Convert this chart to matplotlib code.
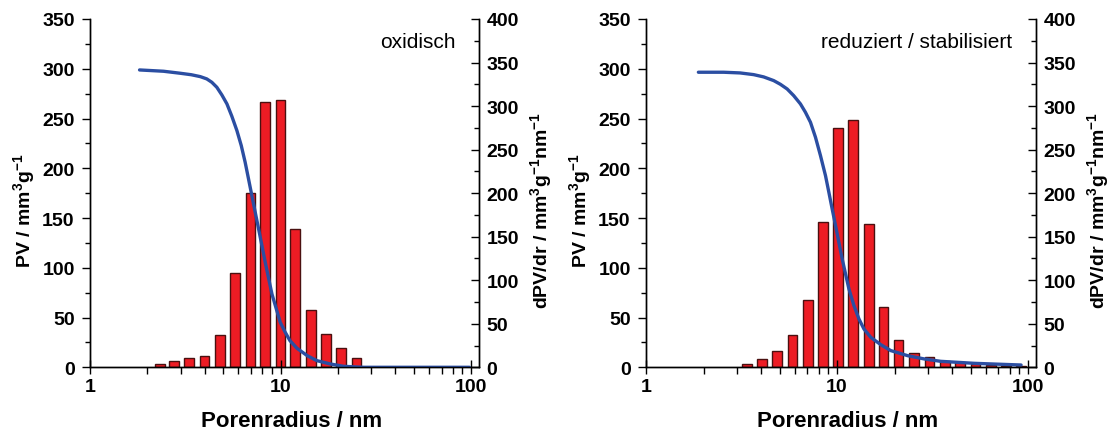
import numpy as np
import matplotlib
matplotlib.use("Agg")
import matplotlib.pyplot as plt
from matplotlib.ticker import FixedLocator, FixedFormatter, MultipleLocator, NullFormatter

plt.rcParams['font.family'] = ['Liberation Sans', 'DejaVu Sans']
plt.rcParams['mathtext.fontset'] = 'custom'
plt.rcParams['mathtext.rm'] = 'Liberation Sans:bold'
plt.rcParams['mathtext.it'] = 'Liberation Sans:bold'
plt.rcParams['mathtext.bf'] = 'Liberation Sans:bold'
plt.rcParams['mathtext.default'] = 'rm'

# ---------------- data ----------------
# left panel: oxidisch
ox_bar_r = [2.33, 2.76, 3.32, 3.99, 4.80, 5.78, 6.96, 8.31, 10.0, 11.95, 14.45, 17.3, 20.8, 25.0]
ox_bar_dv = [3.8, 6.9, 10.3, 12.7, 37.1, 108.0, 199.9, 304.8, 306.6, 158.5, 66.3, 38.6, 21.8, 10.3]
ox_curve_r = [1.82, 2.43, 2.97, 3.40, 3.79, 4.10, 4.36, 4.63, 4.92, 5.23, 5.55, 5.90, 6.22, 6.52,
              6.79, 7.07, 7.67, 8.31, 9.01, 9.96, 10.58, 11.2, 12.2, 13.8, 15.5, 18.2, 21.4,
              27.3, 40.0, 60.0, 98.0]
ox_curve_pv = [298.8, 297.5, 295.5, 294.0, 292.1, 289.8, 286.4, 281.4, 273.7, 264.7, 252.3, 237.9,
               222.8, 206.0, 189.3, 172.5, 139.0, 105.5, 73.7, 45.2, 35.2, 26.8, 19.1, 11.7, 6.7,
               3.4, 1.0, 0.0, 0.0, 0.0, 0.0]

# right panel: reduziert / stabilisiert
red_bar_r = [3.38, 4.06, 4.87, 5.84, 7.03, 8.46, 10.14, 12.16, 14.64, 17.5, 21.0, 25.3,
             30.5, 36.7, 44.1, 53.1, 63.7, 76.4, 91.9]
red_bar_dv = [3.9, 9.1, 18.7, 36.8, 76.9, 167.3, 275.3, 283.7, 164.7, 69.7, 31.0, 16.1,
              11.4, 7.7, 5.7, 3.9, 2.6, 1.9, 1.9]
red_curve_r = [1.88, 2.55, 3.11, 3.66, 4.13, 4.66, 5.05, 5.48, 5.93, 6.43, 6.83, 7.26, 7.71,
               8.19, 8.70, 9.06, 9.43, 9.82, 10.22, 10.64, 11.08, 11.54, 12.26, 13.02, 13.83,
               15.0, 16.92, 19.1, 23.4, 28.6, 34.9, 52.3, 91.9]
red_curve_pv = [296.5, 296.5, 295.8, 294.1, 291.8, 288.1, 284.4, 279.7, 273.0, 264.7, 256.3,
                246.2, 231.2, 212.7, 192.6, 175.9, 159.1, 142.4, 125.6, 108.9, 93.8, 78.7,
                62.0, 48.6, 38.5, 30.2, 22.8, 16.8, 11.7, 8.4, 6.0, 4.0, 2.3]

panel_titles = ["oxidisch", "reduziert / stabilisiert"]
x_ticks = [1, 10, 100]
x_ticklabels = ["1", "10", "100"]
x_label = "Porenradius / nm"
yl_label = r"PV / mm$^{3}$g$^{-1}$"
yr_label = r"dPV/dr / mm$^{3}$g$^{-1}$nm$^{-1}$"

# ---------------- figure ----------------
W, H = 1109, 435
fig = plt.figure(figsize=(W / 100, H / 100), dpi=100)

BAR_RED = '#ED1C24'
BAR_EDGE = '#4a1010'
BLUE = '#2B4EA2'
half_dec = 0.0255

panels = [
    dict(x0=90, x1=479, bars=(ox_bar_r, ox_bar_dv), curve=(ox_curve_r, ox_curve_pv),
         title=panel_titles[0]),
    dict(x0=646, x1=1036, bars=(red_bar_r, red_bar_dv), curve=(red_curve_r, red_curve_pv),
         title=panel_titles[1]),
]
y_top, y_bot = 20, 368.3

for p in panels:
    ax = fig.add_axes([p['x0'] / W, (H - y_bot) / H, (p['x1'] - p['x0']) / W, (y_bot - y_top) / H])
    ax2 = ax.twinx()
    # curve axis on top of bar axis
    ax.set_zorder(ax2.get_zorder() + 1)
    ax.patch.set_visible(False)

    br, bv = np.array(p['bars'][0]), np.array(p['bars'][1])
    lefts = br * 10 ** (-half_dec)
    widths = br * (10 ** half_dec - 10 ** (-half_dec))
    ax2.bar(lefts, bv, width=widths, align='edge', color=BAR_RED, edgecolor=BAR_EDGE,
            linewidth=1.0)
    ax.plot(p['curve'][0], p['curve'][1], color=BLUE, lw=2.4, solid_capstyle='round',
            solid_joinstyle='round')

    for a in (ax, ax2):
        a.set_xscale('log')
        a.set_xlim(1, 110)
        a.spines['top'].set_visible(False)
        for s in a.spines.values():
            s.set_linewidth(1.0)
    ax.set_ylim(0, 350)
    ax2.set_ylim(0, 400)

    ax.xaxis.set_major_locator(FixedLocator(x_ticks))
    ax.xaxis.set_major_formatter(FixedFormatter(x_ticklabels))
    minors = [m * 10 ** d for d in range(0, 2) for m in range(2, 10)]
    ax.xaxis.set_minor_locator(FixedLocator(minors))
    ax.xaxis.set_minor_formatter(NullFormatter())
    ax.tick_params(axis='x', which='major', direction='inout', length=10, width=1.0,
                   labelsize=14, pad=3)
    ax.tick_params(axis='x', which='minor', direction='out', length=5, width=1.0)
    ax2.tick_params(axis='x', which='both', bottom=False, top=False, labelbottom=False)

    ax.yaxis.set_major_locator(MultipleLocator(50))
    ax.yaxis.set_minor_locator(MultipleLocator(25))
    ax2.yaxis.set_major_locator(MultipleLocator(50))
    ax2.yaxis.set_minor_locator(MultipleLocator(25))
    ax.tick_params(axis='y', which='major', direction='out', length=6, width=1.0, labelsize=14, pad=5)
    ax.tick_params(axis='y', which='minor', direction='out', length=3.5, width=1.0)
    ax2.tick_params(axis='y', which='major', direction='in', length=6, width=1.0, labelsize=14, pad=5.5)
    ax2.tick_params(axis='y', which='minor', direction='in', length=3.5, width=1.0)
    for a in (ax, ax2):
        for lab in a.get_xticklabels() + a.get_yticklabels():
            lab.set_fontweight('bold')

    # labels
    cx = (p['x0'] + p['x1']) / 2 + 7
    fig.text(cx / W, 1 - 421.5 / H, x_label, ha='center', va='center', fontsize=16, fontweight='bold')
    fig.text((p['x0'] - 66) / W, 1 - 211 / H, yl_label, ha='center', va='center', rotation=90,
             fontsize=14, fontweight='bold')
    fig.text((p['x1'] + 62) / W, 1 - 211 / H, yr_label, ha='center', va='center', rotation=90,
             fontsize=14, fontweight='bold')
    ax.text(0.94, 0.935, p['title'], transform=ax.transAxes, ha='right', va='center', fontsize=15)

fig.savefig('out.png', dpi=100)
